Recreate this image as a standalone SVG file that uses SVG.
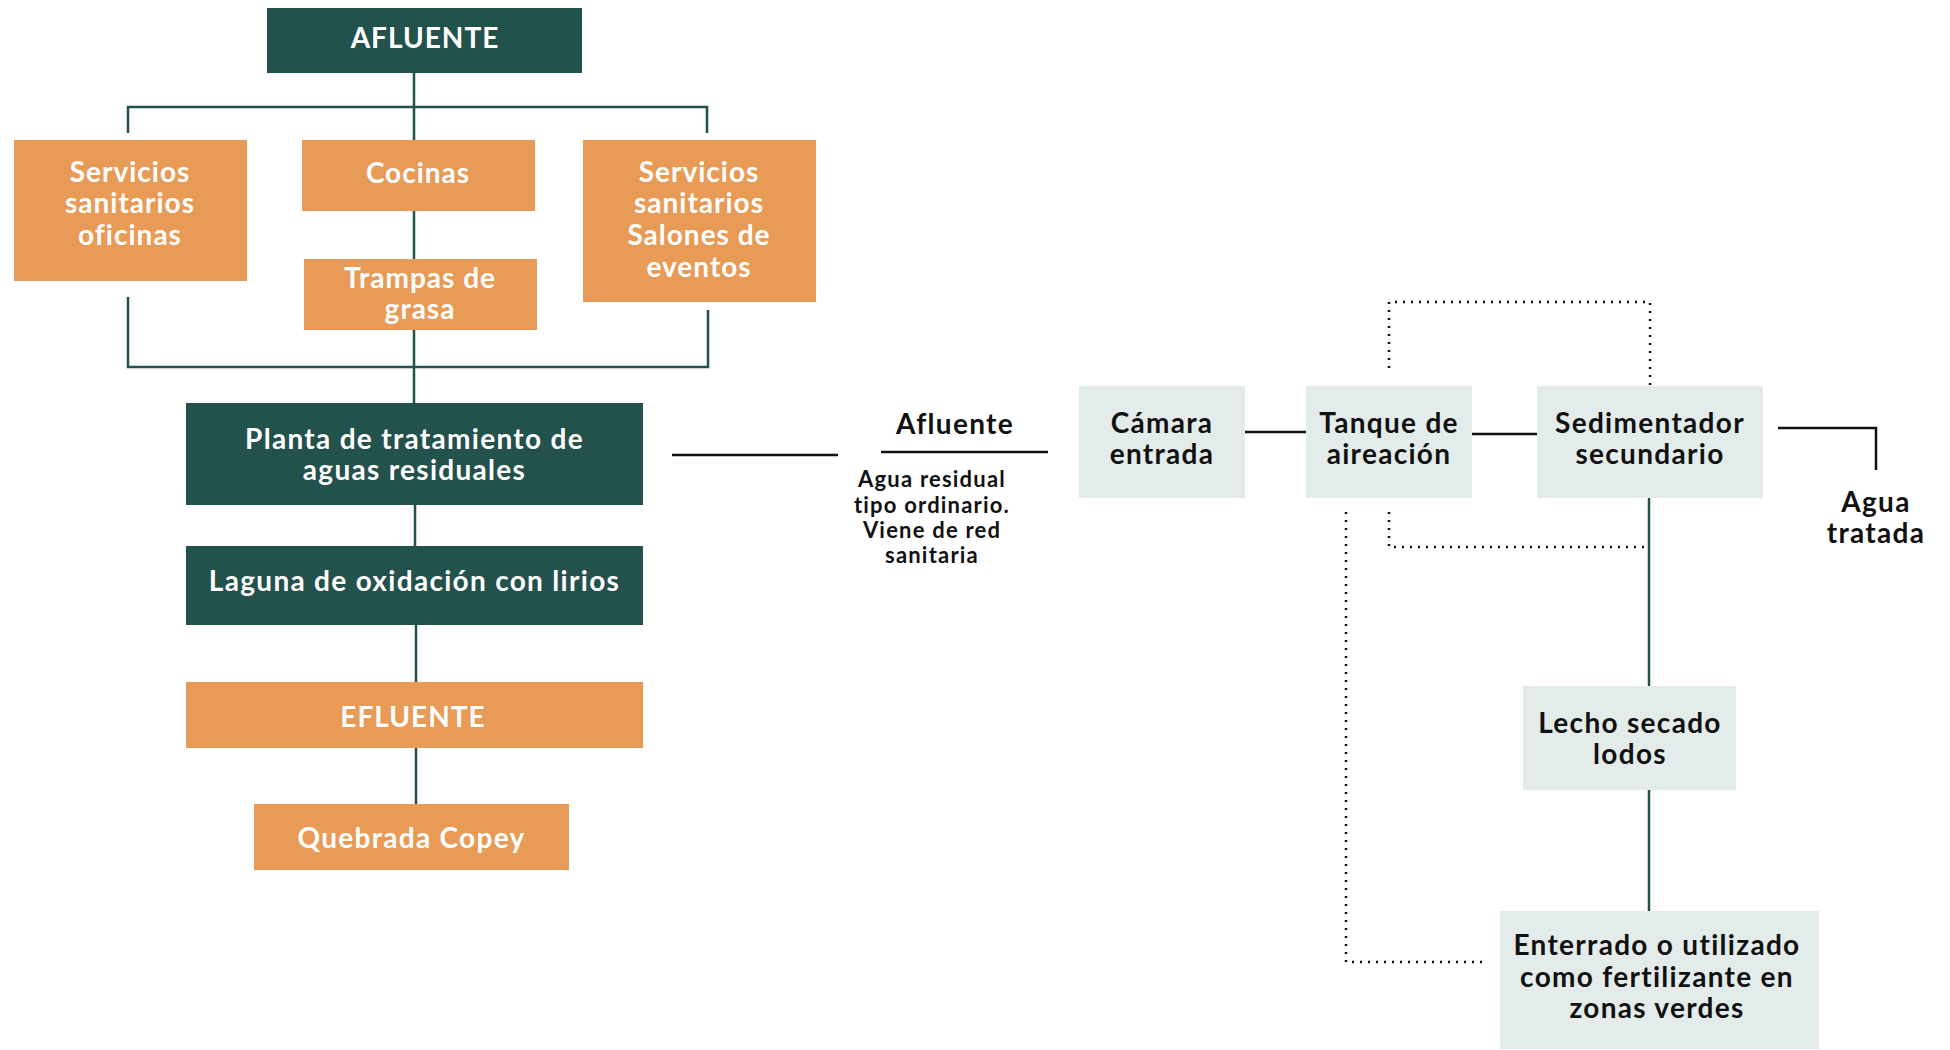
<svg xmlns="http://www.w3.org/2000/svg" width="1950" height="1050" viewBox="0 0 1950 1050">
<style>
.dk{fill:#23524c}
.or{fill:#e89b57}
.lt{fill:#e3ecea}
text{font-family:Lato,"Noto Sans","DejaVu Sans",sans-serif;font-weight:700;text-anchor:middle}
.w{fill:#ffffff;font-size:28px;letter-spacing:1.3px}
.w2{fill:#ffffff;font-size:28px;letter-spacing:1px}
.b{fill:#111111;font-size:28px;letter-spacing:1.3px}
.s{fill:#111111;font-size:22px;letter-spacing:1.2px}
.cg{stroke:#23524c;stroke-width:2.5;fill:none}
.ck{stroke:#111111;stroke-width:2.5;fill:none}
.cd{stroke:#111111;stroke-width:2.5;fill:none;stroke-dasharray:2 6}
</style>
<rect width="1950" height="1050" fill="#ffffff"/>
<g id="connectors">
<path class="cg" d="M414 73V140M128 133V107H707V133M414 211V259M414 330V403M128 297V367H708V310M415 505V546M416 625V682M416 748V804"/>
<path class="ck" d="M672 455H838M881 452H1048M1245 432H1306M1472 434H1537M1778 428H1876V470"/>
<path class="cg" d="M1649 498V686M1649 790V911"/>
<path class="cd" d="M1389 368V302H1650V387M1389 512V547H1648M1346 512V962H1484"/>
</g>
<g id="afluente"><rect class="dk" x="267" y="8" width="315" height="65"/><text class="w2" x="425" y="48">AFLUENTE</text></g>
<g id="serv-oficinas"><rect class="or" x="14" y="140" width="233" height="141"/><text class="w2" x="130" y="182">Servicios</text><text class="w2" x="130" y="213">sanitarios</text><text class="w2" x="130" y="245">oficinas</text></g>
<g id="cocinas"><rect class="or" x="302" y="140" width="233" height="71"/><text class="w2" x="418" y="183">Cocinas</text></g>
<g id="trampas"><rect class="or" x="304" y="259" width="233" height="71"/><text class="w2" x="420" y="288">Trampas de</text><text class="w2" x="420" y="319">grasa</text></g>
<g id="serv-salones"><rect class="or" x="583" y="140" width="233" height="162"/><text class="w2" x="699" y="182">Servicios</text><text class="w2" x="699" y="213">sanitarios</text><text class="w2" x="699" y="245">Salones de</text><text class="w2" x="699" y="277">eventos</text></g>
<g id="planta"><rect class="dk" x="186" y="403" width="457" height="102"/><text class="w" x="414.5" y="449">Planta de tratamiento de</text><text class="w" x="414.5" y="480">aguas residuales</text></g>
<g id="laguna"><rect class="dk" x="186" y="546" width="457" height="79"/><text class="w" x="414.5" y="591">Laguna de oxidación con lirios</text></g>
<g id="efluente"><rect class="or" x="186" y="682" width="457" height="66"/><text class="w2" x="413" y="727">EFLUENTE</text></g>
<g id="quebrada"><rect class="or" x="254" y="804" width="315" height="66"/><text class="w" x="411.5" y="848">Quebrada Copey</text></g>
<g id="afluente-label"><text class="b" x="955" y="434">Afluente</text><text class="s" x="932" y="487">Agua residual</text><text class="s" x="932" y="513">tipo ordinario.</text><text class="s" x="932" y="538">Viene de red</text><text class="s" x="932" y="563">sanitaria</text></g>
<g id="camara"><rect class="lt" x="1079" y="386" width="166" height="112"/><text class="b" x="1162" y="433">Cámara</text><text class="b" x="1162" y="464">entrada</text></g>
<g id="tanque"><rect class="lt" x="1306" y="386" width="166" height="112"/><text class="b" x="1389" y="433">Tanque de</text><text class="b" x="1389" y="464">aireación</text></g>
<g id="sedimentador"><rect class="lt" x="1537" y="386" width="226" height="112"/><text class="b" x="1650" y="433">Sedimentador</text><text class="b" x="1650" y="464">secundario</text></g>
<g id="agua-tratada"><text class="b" x="1876" y="512">Agua</text><text class="b" x="1876" y="543">tratada</text></g>
<g id="lecho"><rect class="lt" x="1523" y="686" width="213" height="104"/><text class="b" x="1630" y="733">Lecho secado</text><text class="b" x="1630" y="764">lodos</text></g>
<g id="enterrado"><rect class="lt" x="1500" y="911" width="319" height="138"/><text class="b" x="1657" y="955">Enterrado o utilizado</text><text class="b" x="1657" y="987">como fertilizante en</text><text class="b" x="1657" y="1018">zonas verdes</text></g>
</svg>
